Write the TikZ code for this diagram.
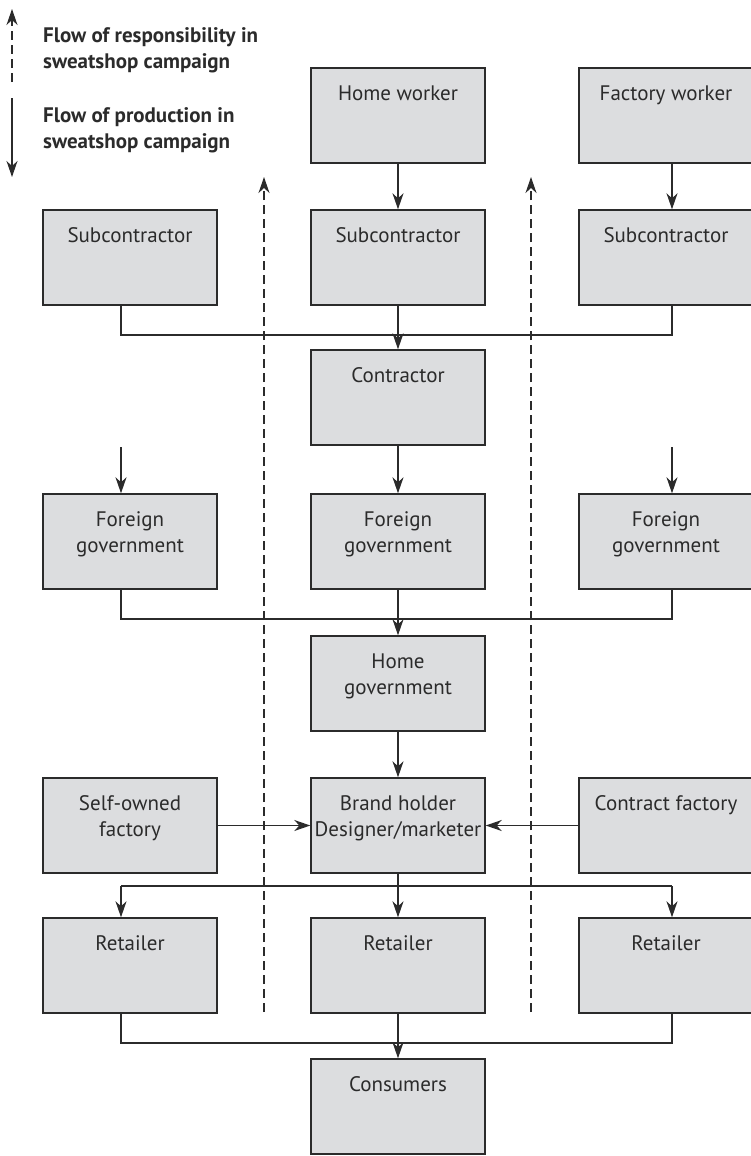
\documentclass[tikz,border=0pt]{standalone}
\usepackage{fontspec}
\setmainfont{PT Sans}
\usetikzlibrary{arrows.meta}

\definecolor{gris}{HTML}{DCDDDF}
\definecolor{trait}{HTML}{2B2B2B}

\begin{document}
\begin{tikzpicture}[x=1pt, y=-1pt]
	\tikzset{boite/.style={draw=trait, fill=gris, line width=1.4pt, minimum width=174pt, minimum height=95pt, inner sep=0pt},
	texte/.style={anchor=north, align=center, text=trait, font=\fontsize{21}{26}\selectfont, inner sep=0pt, yshift=-18pt},
	legende/.style={anchor=west, align=left, text=trait, font=\fontsize{21}{26}\selectfont\bfseries, inner sep=0pt},
	lien/.style={line width=1.3pt, draw=trait},
	fleche/.style={lien, -{Stealth[length=16pt, width=11pt, inset=5pt]}},
	resp/.style={fleche, dash pattern=on 9pt off 5pt}};

	\useasboundingbox (0,0) rectangle (750,1156);

	% legende
	\coordinate (r-bas) at (12,82);
	\coordinate (r-haut) at (12,9);
	\coordinate (p-haut) at (12,98);
	\coordinate (p-bas) at (12,177);
	\draw[resp] (r-bas) -- (r-haut);
	\draw[fleche] (p-haut) -- (p-bas);
	\node[legende] (leg-resp) at (43,50) {Flow of responsibility in\\sweatshop campaign};
	\node[legende] (leg-prod) at (43,130) {Flow of production in\\sweatshop campaign};

	% boites
	\foreach \nom/\x/\y/\txt in {ouvrier-m/398/115.5/{Home worker}, ouvrier-d/666/115.5/{Factory worker},
		sous-g/130/257.5/Subcontractor, sous-m/398/257.5/Subcontractor, sous-d/666/257.5/Subcontractor,
		contractant/398/397.5/Contractor,
		etranger-g/130/541.5/{Foreign\\government}, etranger-m/398/541.5/{Foreign\\government}, etranger-d/666/541.5/{Foreign\\government},
		gouv/398/683.5/{Home\\government},
		usine-g/130/825.5/{Self-owned\\factory}, marque/398/825.5/{Brand holder\\Designer/marketer}, usine-d/666/825.5/{Contract factory},
		detail-g/130/965.5/Retailer, detail-m/398/965.5/Retailer, detail-d/666/965.5/Retailer,
		conso/398/1106.5/Consumers}{
		\node[boite, label={[texte]north:\txt}] (\nom) at (\x,\y) {};
	}

	% points de jonction
	\foreach \j/\y in {j1/335, j2/619, j3/886, j4/1043}{
		\coordinate (\j-g) at (121,\y);
		\coordinate (\j-d) at (672,\y);
	}
	\coordinate (in-g) at (121,447);
	\coordinate (in-d) at (672,447);

	% production
	\draw[fleche] (ouvrier-m) -- (sous-m);
	\draw[fleche] (ouvrier-d.south -| j1-d) -- (sous-d.north -| j1-d);
	\draw[lien] (sous-g.south -| j1-g) -- (j1-g) -- (j1-d) -- (sous-d.south -| j1-d);
	\draw[fleche] (sous-m) -- (contractant);
	\draw[fleche] (contractant) -- (etranger-m);
	\draw[fleche] (in-g) -- (etranger-g.north -| in-g);
	\draw[fleche] (in-d) -- (etranger-d.north -| in-d);
	\draw[lien] (etranger-g.south -| j2-g) -- (j2-g) -- (j2-d) -- (etranger-d.south -| j2-d);
	\draw[fleche] (etranger-m) -- (gouv);
	\draw[fleche] (gouv) -- (marque);
	\draw[fleche] (usine-g) -- (marque);
	\draw[fleche] (usine-d) -- (marque);
	\draw[lien] (j3-g) -- (j3-d);
	\draw[fleche] (j3-g) -- (detail-g.north -| j3-g);
	\draw[fleche] (marque) -- (detail-m);
	\draw[fleche] (j3-d) -- (detail-d.north -| j3-d);
	\draw[lien] (detail-g.south -| j4-g) -- (j4-g) -- (j4-d) -- (detail-d.south -| j4-d);
	\draw[fleche] (detail-m) -- (conso);

	% responsabilite
	\coordinate (d1-bas) at (264,1012);
	\coordinate (d1-haut) at (264,177);
	\coordinate (d2-bas) at (531,1012);
	\coordinate (d2-haut) at (531,177);
	\draw[resp] (d1-bas) -- (d1-haut);
	\draw[resp] (d2-bas) -- (d2-haut);
\end{tikzpicture}
\end{document}
